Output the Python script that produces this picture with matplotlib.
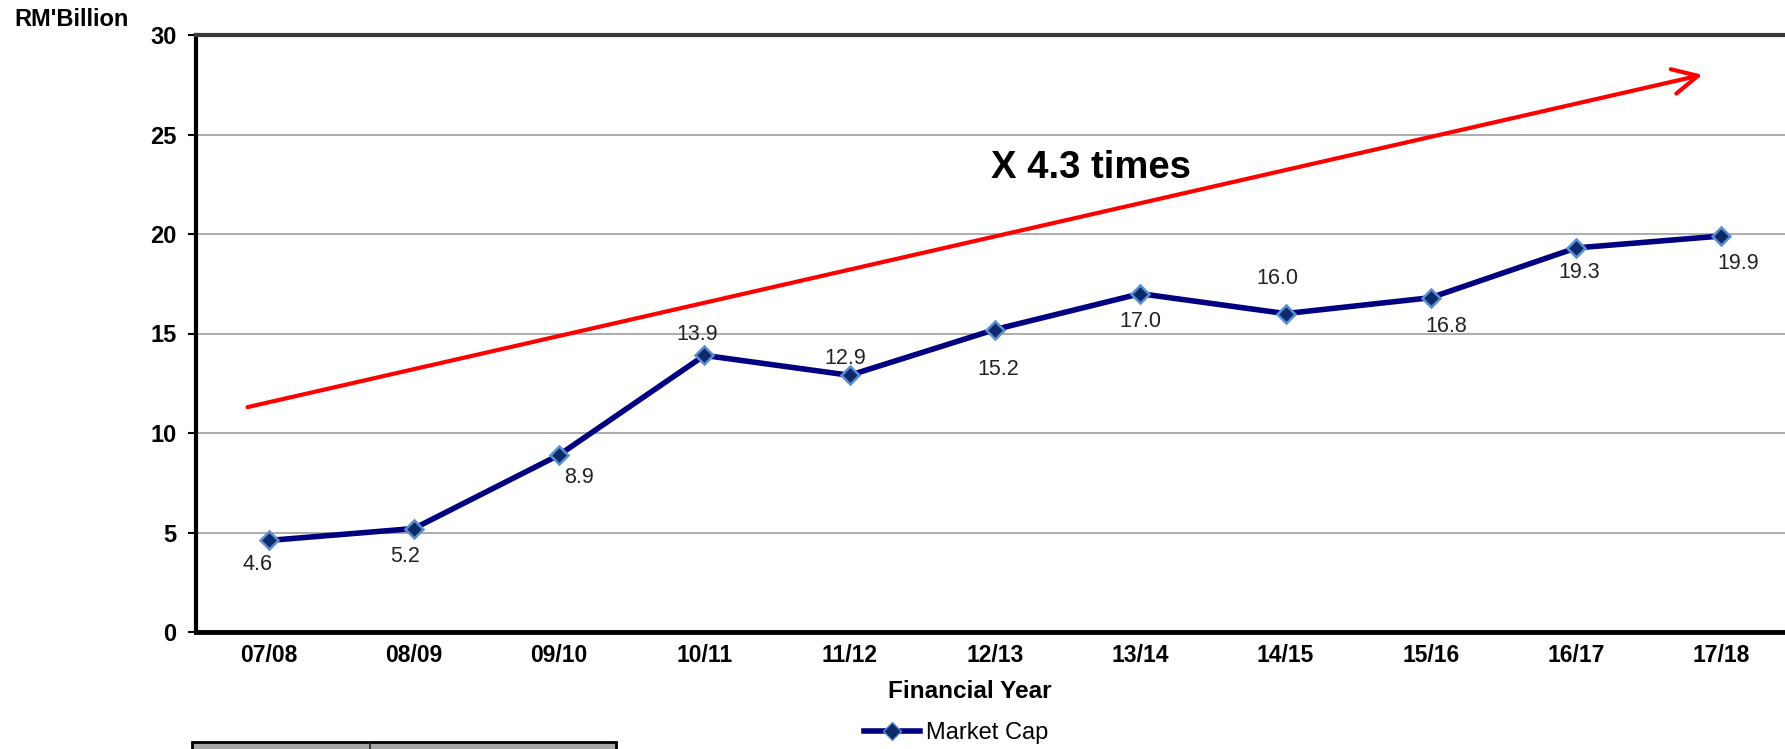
import matplotlib
matplotlib.use("Agg")
import matplotlib.pyplot as plt
from matplotlib.patches import Rectangle
from matplotlib.lines import Line2D

plt.rcParams['font.family'] = ['Liberation Sans', 'DejaVu Sans']

years = ["07/08", "08/09", "09/10", "10/11", "11/12", "12/13",
         "13/14", "14/15", "15/16", "16/17", "17/18"]
market_cap = [4.6, 5.2, 8.9, 13.9, 12.9, 15.2, 17.0, 16.0, 16.8, 19.3, 19.9]
# label offsets in points (dx, dy)
label_offsets = [(-8, -17), (-6, -20), (14, -16), (-5, 15), (-3, 12), (2, -29),
                 (0, -20), (-6, 25), (11, -21), (2, -18), (12, -20)]
y_ticks = [0, 5, 10, 15, 20, 25, 30]

W, H = 1785, 749
fig = plt.figure(figsize=(W / 100, H / 100), dpi=100)
ax = fig.add_axes([196 / W, (H - 632) / H, (1794 - 196) / W, (632 - 35) / H])

x = list(range(len(years)))
ax.plot(x, market_cap, color='#000080', lw=4, marker='D', markersize=9.5,
        markerfacecolor='#0d2a6b', markeredgecolor='#5b8fd0', markeredgewidth=1.8,
        zorder=5, solid_capstyle='round')

for xi, v, (dx, dy) in zip(x, market_cap, label_offsets):
    ax.annotate(f"{v:.1f}", (xi, v), xytext=(dx, dy), textcoords='offset points',
                ha='center', va='center', fontsize=15.5, color='#222222')

ax.set_xlim(-0.5, len(years) - 0.5)
ax.set_ylim(0, 30)
ax.set_yticks(y_ticks)
ax.set_xticks(x)
ax.set_xticklabels(years)
ax.tick_params(axis='x', length=0, pad=9, labelsize=16.5)
ax.tick_params(axis='y', length=6, width=1.5, pad=8, labelsize=17)
for lab in ax.get_xticklabels() + ax.get_yticklabels():
    lab.set_fontweight('bold')

ax.grid(axis='y', color='#a6a6a6', lw=1.3)
ax.set_axisbelow(True)
ax.spines['left'].set_linewidth(3)
ax.spines['bottom'].set_linewidth(3.5)
ax.spines['left'].set_color('black')
ax.spines['bottom'].set_color('black')
ax.spines['top'].set_linewidth(3)
ax.spines['top'].set_color('#3a3a3a')
ax.spines['right'].set_visible(False)

# red trend arrow
ax.annotate("", xy=(9.87, 28.0), xytext=(-0.145, 11.3),
            arrowprops=dict(arrowstyle='->,head_length=0.9,head_width=0.45',
                            color='red', lw=3, mutation_scale=20,
                            shrinkA=0, shrinkB=0), annotation_clip=False)
ax.text(5.66, 23.3, "X 4.3 times", fontsize=27.5, fontweight='bold',
        ha='center', va='center', color='black')

fig.text(72 / W, 1 - 20 / H, "RM'Billion", fontsize=17, fontweight='bold',
         ha='center', va='center')
fig.text(970 / W, 1 - 692 / H, "Financial Year", fontsize=17.5, fontweight='bold',
         ha='center', va='center')

handle = Line2D([], [], color='#000080', lw=4, marker='D', markersize=9.5,
                markerfacecolor='#0d2a6b', markeredgecolor='#5b8fd0')
fig.legend([handle], ["Market Cap"], loc='center', bbox_to_anchor=(956 / W, 1 - 733 / H),
           frameon=False, fontsize=17, handlelength=2.4, handletextpad=0.25,
           borderpad=0)

# partially visible table at bottom
fig.patches.append(Rectangle((192 / W, 0 - 0.01), (616 - 192) / W, (7 / H) + 0.01,
                             transform=fig.transFigure, facecolor='#a6a6a6',
                             edgecolor='black', lw=2))
fig.lines.append(Line2D([370 / W, 370 / W], [0, 7 / H], transform=fig.transFigure,
                        color='#222222', lw=1.2))

fig.savefig("out.png", dpi=100)
